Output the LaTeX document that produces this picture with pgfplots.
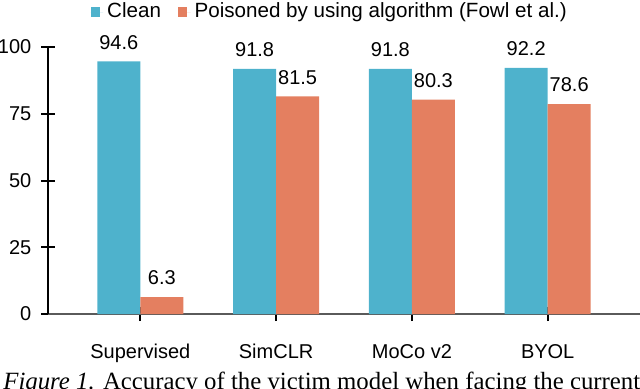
\documentclass[border=0pt]{standalone}
\usepackage{fontspec}
\setmainfont{Liberation Sans}
\newfontfamily\capfont{Liberation Serif}
\usepackage{pgfplots}
\pgfplotsset{compat=1.18}

\definecolor{cleanc}{RGB}{78,178,204}
\definecolor{poisc}{RGB}{228,127,96}
\definecolor{axgray}{RGB}{90,90,90}

\begin{document}
\begin{tikzpicture}
\useasboundingbox (0,0) rectangle (320pt,194pt);
\begin{axis}[
    scale only axis,
    width=296pt, height=133.5pt,
    at={(24pt,37pt)}, anchor=south west,
    ybar=0pt, bar width=21.5pt,
    xmin=-0.68, xmax=3.68, ymin=0, ymax=100,
    axis x line=bottom, axis y line=left,
    x axis line style={-, draw=axgray, line width=0.8pt},
    y axis line style={-, draw=black, line width=0.6pt},
    xtick={0,1,2,3},
    xticklabels={Supervised,SimCLR,MoCo v2,BYOL},
    ytick={0,25,50,75,100},
    tick align=center,
    major tick length=7pt,
    every tick/.style={black, line width=1pt},
    /pgf/number format/assume math mode=true,
    xticklabel style={yshift=-8pt},
    yticklabel style={xshift=-1.3pt},
    ticklabel style={font=\fontsize{10}{12}\selectfont},
    nodes near coords,
    nodes near coords style={font=\fontsize{10}{12}\selectfont, yshift=2.5pt, /pgf/number format/fixed, /pgf/number format/precision=1},
    legend columns=-1,
    legend style={draw=none, fill=none, at={(axis description cs:0.4775,1.131)}, anchor=center,
        font=\fontsize{10.3}{12}\selectfont,
        /tikz/every even column/.append style={column sep=6.5pt}},
    legend image code/.code={\fill[#1] (0pt,-2.35pt) rectangle (4.7pt,2.35pt); \path (0pt,0pt) -- (6.3pt,0pt);},
]
\addplot[fill=cleanc, draw=none] coordinates {(0,94.6) (1,91.8) (2,91.8) (3,92.2)};
\addlegendentry{Clean}
\addplot[fill=poisc, draw=none] coordinates {(0,6.3) (1,81.5) (2,80.3) (3,78.6)};
\addlegendentry{Poisoned by using algorithm (Fowl et al.)}
\end{axis}
\node[anchor=base west, inner sep=0pt, font=\capfont\fontsize{12.4}{14}\selectfont] at (1.5pt,-0.8pt)
    {\textit{Figure 1.} Accuracy of the victim model when facing the current};
\end{tikzpicture}
\end{document}
